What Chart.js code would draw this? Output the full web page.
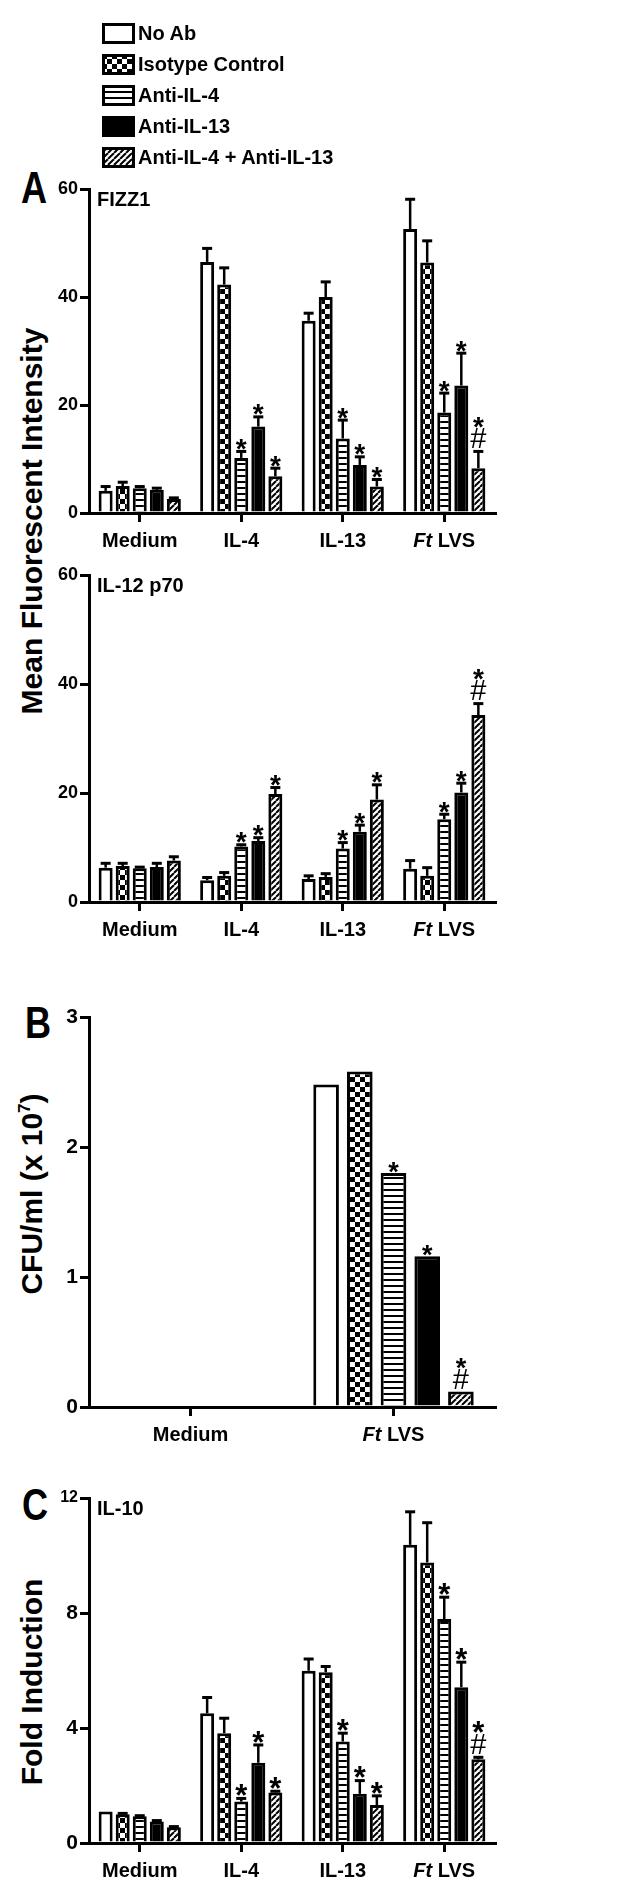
<!DOCTYPE html>
<html>
<head>
<meta charset="utf-8">
<script src="https://cdn.jsdelivr.net/npm/chart.js@4.4.1/dist/chart.umd.min.js"></script>
<style>
  html, body { margin: 0; padding: 0; background: #fff; }
  body {
    width: 630px; height: 1903px; position: relative; overflow: hidden;
    font-family: "Liberation Sans", Arial, sans-serif; font-weight: bold; color: #000;
  }
  .panel { position: absolute; left: 0; width: 630px; }
  .letter { position: absolute; font-size: 44px; line-height: 1; transform: scaleX(0.82); transform-origin: left top; }
  .ytitle {
    position: absolute; font-size: 30px; line-height: 1; white-space: nowrap;
    transform: translate(-50%, -50%) rotate(-90deg);
  }
  .ytitle sup { font-size: 17px; vertical-align: 12px; line-height: 0; }
  #legend { position: absolute; left: 102px; top: 18px; }
  .row { height: 31px; display: flex; align-items: center; }
  .row canvas { margin-right: 3px; display: block; }
  .row span { font-size: 20px; }
</style>
</head>
<body>

<div id="legend"></div>

<div class="letter" style="left:21px; top:166px;">A</div>
<div class="letter" style="left:25px; top:1001px;">B</div>
<div class="letter" style="left:22px; top:1483px;">C</div>

<div class="ytitle" style="left:32px; top:521px;">Mean Fluorescent Intensity</div>
<div class="ytitle" style="left:32px; top:1194px;">CFU/ml (x 10<sup>7</sup>)</div>
<div class="ytitle" style="left:32px; top:1682px;">Fold Induction</div>

<div class="panel" style="top:169px; height:384px;"><canvas id="fizz"></canvas></div>
<div class="panel" style="top:555px; height:387px;"><canvas id="il12"></canvas></div>
<div class="panel" style="top:997px; height:450px;"><canvas id="cfu"></canvas></div>
<div class="panel" style="top:1478px; height:405px;"><canvas id="il10"></canvas></div>

<script>
// categories and series
const groups = ['Medium', 'IL-4', 'IL-13', 'Ft LVS'];
const groupsB = ['Medium', 'Ft LVS'];
const treatments = ['No Ab', 'Isotype Control', 'Anti-IL-4', 'Anti-IL-13', 'Anti-IL-4 + Anti-IL-13'];

// A - FIZZ1 (MFI)
const fizzNoAb     = [4.1, 46.5, 35.6, 52.6];
const fizzIso      = [5.0, 42.3, 40.0, 46.4];
const fizzAntiIL4  = [4.6, 10.2, 13.8, 18.6];
const fizzAntiIL13 = [4.3, 16.0, 8.9, 23.6];
const fizzBoth     = [2.6, 6.8, 4.9, 8.3];
const fizzErr = [
    [0.8, 2.5, 1.4, 5.5],
    [0.7, 3.1, 2.8, 4.0],
    [0.3, 1.2, 3.4, 3.6],
    [0.3, 1.8, 1.5, 6.0],
    [0.2, 1.5, 1.3, 3.1]
];
const fizzTicks = [0, 20, 40, 60];

// A - IL-12 p70 (MFI)
const il12NoAb     = [6.3, 4.0, 4.2, 6.1];
const il12Iso      = [6.6, 4.8, 4.6, 4.8];
const il12AntiIL4  = [6.2, 10.2, 9.8, 15.2];
const il12AntiIL13 = [6.4, 11.2, 12.9, 20.1];
const il12Both     = [7.6, 19.8, 18.8, 34.3];
const il12Err = [
    [0.8, 0.5, 0.6, 1.5],
    [0.5, 0.6, 0.6, 1.5],
    [0.2, 0.3, 1.1, 0.9],
    [0.7, 0.6, 1.2, 1.7],
    [0.7, 1.2, 2.7, 2.1]
];
const il12Ticks = [0, 20, 40, 60];

// B - CFU/ml (x 10^7)
const cfuNoAb     = [0, 2.48];
const cfuIso      = [0, 2.58];
const cfuAntiIL4  = [0, 1.80];
const cfuAntiIL13 = [0, 1.16];
const cfuBoth     = [0, 0.12];
const cfuTicks = [0, 1, 2, 3];

// C - IL-10 fold induction
const il10NoAb     = [1.10, 4.51, 5.99, 10.37];
const il10Iso      = [1.00, 3.82, 5.94, 9.76];
const il10AntiIL4  = [0.93, 1.44, 3.53, 7.79];
const il10AntiIL13 = [0.75, 2.79, 1.71, 5.42];
const il10Both     = [0.55, 1.76, 1.32, 2.91];
const il10Err = [
    [0.00, 0.55, 0.41, 1.15],
    [0.03, 0.52, 0.20, 1.38],
    [0.02, 0.11, 0.29, 0.76],
    [0.03, 0.62, 0.46, 0.87],
    [0.02, 0.04, 0.32, 0.07]
];
const il10Ticks = [0, 4, 8, 12];

// significance marks (* vs No Ab, # vs single antibody)
const stars4 = [[0,0,0,0], [0,0,0,0], [0,1,1,1], [0,1,1,1], [0,1,1,1]];
const hash4  = [[0,0,0,0], [0,0,0,0], [0,0,0,0], [0,0,0,0], [0,0,0,1]];
const stars2 = [[0,0], [0,0], [0,1], [0,1], [0,1]];
const hash2  = [[0,0], [0,0], [0,0], [0,0], [0,1]];

const FONT = '"Liberation Sans", Arial, sans-serif';

// --- fill patterns ---
function makeTile(size, draw) {
    const c = document.createElement('canvas');
    c.width = size; c.height = size;
    const g = c.getContext('2d');
    g.fillStyle = '#fff';
    g.fillRect(0, 0, size, size);
    g.fillStyle = '#000';
    g.strokeStyle = '#000';
    draw(g, size);
    return g.createPattern(c, 'repeat');
}

const patterns = [
    '#ffffff',
    makeTile(10, (g) => { g.fillRect(0, 0, 5, 5); g.fillRect(5, 5, 5, 5); }),
    makeTile(6, (g) => { g.fillRect(0, 0, 6, 2); }),
    '#000000',
    makeTile(6, (g, s) => {
        g.lineWidth = 2;
        for (let k = -1; k <= 1; k++) {
            g.beginPath();
            g.moveTo(k * s, s);
            g.lineTo(k * s + s, 0);
            g.stroke();
        }
    })
];

// --- legend ---
const legend = document.getElementById('legend');
treatments.forEach((name, i) => {
    const row = document.createElement('div');
    row.className = 'row';
    const sw = document.createElement('canvas');
    sw.width = 33; sw.height = 21;
    const g = sw.getContext('2d');
    g.fillStyle = patterns[i];
    g.fillRect(0, 0, 33, 21);
    g.lineWidth = 3;
    g.strokeStyle = '#000';
    g.strokeRect(1.5, 1.5, 30, 18);
    const txt = document.createElement('span');
    txt.textContent = name;
    row.appendChild(sw);
    row.appendChild(txt);
    legend.appendChild(row);
});

// error bars, * and # marks, group labels, panel title
const decorations = {
    id: 'decorations',
    afterDatasetsDraw(chart, args, opts) {
        const ctx = chart.ctx;
        const yScale = chart.scales.y;
        ctx.save();
        ctx.fillStyle = '#000';
        ctx.strokeStyle = '#000';
        ctx.textAlign = 'center';
        ctx.textBaseline = 'alphabetic';
        chart.data.datasets.forEach((ds, i) => {
            const meta = chart.getDatasetMeta(i);
            meta.data.forEach((bar, j) => {
                const v = ds.data[j];
                const e = ds.errors ? ds.errors[j] : 0;
                let top = bar.y;
                if (e > 0) {
                    const ye = yScale.getPixelForValue(v + e);
                    ctx.lineWidth = opts.errWidth;
                    ctx.beginPath();
                    ctx.moveTo(bar.x, bar.y);
                    ctx.lineTo(bar.x, ye);
                    ctx.stroke();
                    ctx.lineWidth = 3;
                    ctx.beginPath();
                    ctx.moveTo(bar.x - opts.capHalf, ye);
                    ctx.lineTo(bar.x + opts.capHalf, ye);
                    ctx.stroke();
                    top = ye - 1.5;
                }
                let yb = top - opts.gap;
                if (ds.hashes && ds.hashes[j]) {
                    ctx.font = `normal ${opts.hashSize}px ${FONT}`;
                    ctx.fillText('#', bar.x, yb);
                    yb -= opts.hashSize * 0.7 + 2;
                }
                if (ds.stars && ds.stars[j]) {
                    ctx.font = `bold ${opts.starSize}px ${FONT}`;
                    ctx.fillText('*', bar.x, yb + opts.starSize * 0.36);
                }
            });
        });
        ctx.restore();
    },
    afterDraw(chart, args, opts) {
        const ctx = chart.ctx;
        const xScale = chart.scales.x;
        const area = chart.chartArea;
        ctx.save();
        ctx.fillStyle = '#000';
        ctx.textBaseline = 'alphabetic';
        // group labels, "Ft" in italics
        chart.data.labels.forEach((lab, i) => {
            const x = xScale.getPixelForTick(i);
            const y = area.bottom + opts.labelOffset;
            const bold = `bold ${opts.labelSize}px ${FONT}`;
            const ital = `italic bold ${opts.labelSize}px ${FONT}`;
            if (lab.startsWith('Ft ')) {
                const rest = lab.slice(2);
                ctx.font = ital;
                const w1 = ctx.measureText('Ft').width;
                ctx.font = bold;
                const w2 = ctx.measureText(rest).width;
                let x0 = x - (w1 + w2) / 2;
                ctx.textAlign = 'left';
                ctx.font = ital;
                ctx.fillText('Ft', x0, y);
                ctx.font = bold;
                ctx.fillText(rest, x0 + w1, y);
            } else {
                ctx.textAlign = 'center';
                ctx.font = bold;
                ctx.fillText(lab, x, y);
            }
        });
        if (opts.title) {
            ctx.textAlign = 'left';
            ctx.font = `bold ${opts.titleSize}px ${FONT}`;
            ctx.fillText(opts.title, area.left + 8, area.top + 17);
        }
        ctx.restore();
    }
};

function makeChart(id, labels, series, errors, stars, hashes, ticks, cfg) {
    const ctx = document.getElementById(id).getContext('2d');
    return new Chart(ctx, {
        type: 'bar',
        data: {
            labels: labels,
            datasets: treatments.map((name, i) => ({
                label: name,
                data: series[i],
                errors: errors ? errors[i] : null,
                stars: stars[i],
                hashes: hashes[i],
                backgroundColor: patterns[i],
                borderColor: '#000',
                borderWidth: 3,
                categoryPercentage: cfg.catPct,
                barPercentage: cfg.barPct
            }))
        },
        options: {
            responsive: true,
            maintainAspectRatio: false,
            animation: false,
            layout: { padding: { top: 20, right: 135, bottom: 0, left: 0 } },
            plugins: {
                legend: { display: false },
                tooltip: { enabled: false },
                decorations: {
                    title: cfg.title,
                    titleSize: 20,
                    labelSize: 20,
                    labelOffset: 34,
                    errWidth: 2.5,
                    capHalf: 5,
                    gap: 2,
                    starSize: cfg.starSize,
                    hashSize: 29
                }
            },
            scales: {
                x: {
                    type: 'category',
                    offset: true,
                    z: 1,
                    ticks: { display: false },
                    grid: {
                        display: true,
                        offset: false,
                        drawOnChartArea: false,
                        drawTicks: true,
                        tickLength: 9,
                        color: '#000',
                        lineWidth: 3
                    },
                    border: { display: true, color: '#000', width: 3 },
                    afterFit(scale) { scale.height = 40; }
                },
                y: {
                    min: ticks[0],
                    max: ticks[ticks.length - 1],
                    z: 1,
                    ticks: {
                        stepSize: ticks[1] - ticks[0],
                        color: '#000',
                        padding: 2,
                        font: cfg.tickFont
                    },
                    grid: {
                        drawOnChartArea: false,
                        drawTicks: true,
                        tickLength: 9,
                        color: '#000',
                        lineWidth: 3
                    },
                    border: { display: true, color: '#000', width: 3 },
                    afterFit(scale) { scale.width = 89; }
                }
            }
        },
        plugins: [decorations]
    });
}

const fontA = { family: FONT, weight: 'bold', size: 18 };
const fontB = { family: FONT, weight: 'bold', size: 21 };
const fontC = (c) => ({ family: FONT, weight: 'bold', size: c.tick && c.tick.value === 12 ? 16 : 21 });

makeChart('fizz', groups,
    [fizzNoAb, fizzIso, fizzAntiIL4, fizzAntiIL13, fizzBoth], fizzErr, stars4, hash4, fizzTicks,
    { title: 'FIZZ1', catPct: 0.84, barPct: 0.82, tickFont: fontA, starSize: 28 });

makeChart('il12', groups,
    [il12NoAb, il12Iso, il12AntiIL4, il12AntiIL13, il12Both], il12Err, stars4, hash4, il12Ticks,
    { title: 'IL-12 p70', catPct: 0.84, barPct: 0.82, tickFont: fontA, starSize: 28 });

makeChart('cfu', groupsB,
    [cfuNoAb, cfuIso, cfuAntiIL4, cfuAntiIL13, cfuBoth], null, stars2, hash2, cfuTicks,
    { title: '', catPct: 0.83, barPct: 0.76, tickFont: fontB, starSize: 27 });

makeChart('il10', groups,
    [il10NoAb, il10Iso, il10AntiIL4, il10AntiIL13, il10Both], il10Err, stars4, hash4, il10Ticks,
    { title: 'IL-10', catPct: 0.84, barPct: 0.82, tickFont: fontC, starSize: 31 });
</script>
</body>
</html>
